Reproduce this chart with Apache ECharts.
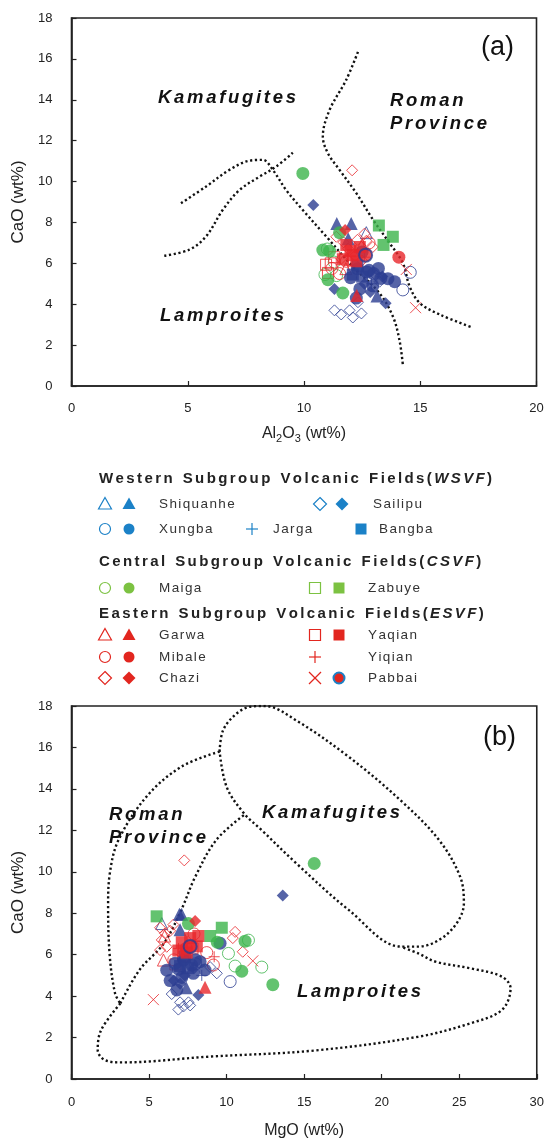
<!DOCTYPE html>
<html>
<head>
<meta charset="utf-8">
<script src="https://cdn.jsdelivr.net/npm/echarts@6/dist/echarts.min.js"></script>
<style>
  html, body { margin: 0; padding: 0; background: #fff; }
  #chart { width: 547px; height: 1142px; }
</style>
</head>
<body>
<div id="chart"></div>
<script>
// samples: [Al2O3, MgO, CaO] (wt%)
var shiquanheOpen   = [[12.68, 5.82, 7.5]];
var shiquanheFilled = [[11.41, 6.96, 7.95], [12.03, 7.1, 7.95], [11.9, 7.0, 7.2], [13.14, 7.4, 4.4]];
var xungbaOpen      = [[14.57, 8.0, 5.56], [14.25, 10.23, 4.7]];
var xungbaFilled    = [[13.9, 7.86, 5.1], [13.61, 6.14, 5.25], [12.25, 6.79, 4.3], [12.96, 7.11, 4.9],
                       [12.4, 6.36, 4.75], [12.7, 6.68, 5.58], [12.3, 7.22, 5.74], [13.0, 7.75, 5.5],
                       [12.8, 8.29, 5.66], [13.3, 8.61, 5.26], [12.5, 9.58, 6.55], [12.0, 6.9, 5.3],
                       [13.2, 8.0, 5.75]];
var sailipuOpen     = [[11.31, 7.0, 3.7], [11.6, 7.22, 3.5], [11.96, 7.54, 3.7], [12.1, 6.89, 3.35],
                       [12.47, 7.65, 3.55], [12.32, 6.46, 4.1], [13.11, 8.94, 5.4], [13.25, 9.37, 5.1]];
var sailipuFilled   = [[10.4, 13.62, 8.85], [13.51, 8.18, 4.05], [13.37, 7.9, 5.35], [11.31, 6.6, 4.75],
                       [12.6, 7.3, 5.0], [12.85, 7.0, 4.6]];
var jarga           = [[12.9, 8.4, 5.0]];
var bangba          = [[12.1, 7.0, 5.45], [12.5, 7.5, 5.35], [12.3, 7.3, 5.9]];
var maigaOpen       = [[11.0, 11.41, 6.7], [11.3, 10.12, 6.06], [10.9, 10.55, 5.45], [11.4, 12.27, 5.4]];
var maigaFilled     = [[9.95, 15.65, 10.4], [11.53, 7.54, 7.5], [10.81, 11.19, 6.65], [11.1, 9.4, 6.6],
                       [11.03, 10.98, 5.2], [11.67, 12.98, 4.55]];
var zabuyeFilled    = [[13.22, 5.49, 7.85], [13.82, 9.69, 7.3], [13.42, 8.94, 6.9]];
var garwaOpen       = [[11.8, 5.93, 5.74], [12.5, 6.0, 6.9]];
var garwaFilled     = [[12.27, 8.61, 4.43]];
var mibaleOpen      = [[11.53, 9.15, 5.5], [11.82, 8.72, 6.1], [12.8, 7.9, 7.0], [11.2, 6.6, 5.75]];
var mibaleFilled    = [[14.08, 7.4, 6.3]];
var chaziOpen       = [[12.07, 7.27, 10.55], [12.68, 10.55, 7.1], [12.96, 10.4, 6.8], [12.5, 11.04, 6.14],
                       [11.39, 5.71, 7.3], [11.7, 6.03, 7.03], [12.3, 6.36, 7.15], [11.9, 5.82, 6.71],
                       [12.2, 6.14, 6.38], [11.6, 5.71, 6.22], [12.6, 6.57, 7.45]];
var chaziFilled     = [[11.77, 7.97, 7.63]];
var yaqianOpen      = [[10.95, 7.3, 5.93], [11.03, 6.7, 5.53], [11.3, 7.8, 6.3], [11.15, 7.2, 6.0]];
var yaqianFilled    = [[11.82, 8.18, 6.9], [11.67, 6.89, 6.2], [12.25, 7.43, 6.1], [12.0, 7.11, 6.6],
                       [12.4, 7.65, 6.8], [12.1, 8.08, 6.4]];
var yiqian          = [[11.9, 9.2, 5.9], [12.6, 6.9, 6.3]];
var pabbaiCross     = [[14.4, 11.69, 5.7], [14.8, 5.28, 3.83]];
var pabbaiDot       = [[12.65, 7.65, 6.4]];

// field boundaries, panel (a): [Al2O3, CaO]
var archA  = [[4.71, 8.94], [5.79, 9.76], [6.79, 10.57], [7.65, 11.02], [8.23, 11.06], [8.66, 10.57],
              [9.23, 9.59], [9.94, 8.62], [10.95, 7.32], [12.09, 5.85], [13.24, 4.55], [13.82, 3.41],
              [14.1, 2.28], [14.25, 1.06]];
var riseA  = [[3.99, 6.37], [5.07, 6.67], [5.79, 7.32], [6.51, 8.62], [7.23, 9.59], [8.09, 10.24],
              [8.8, 10.73], [9.52, 11.41]];
var romanA = [[12.32, 16.34], [11.81, 14.96], [11.1, 13.5], [10.81, 12.2], [11.03, 11.38], [11.53, 10.57],
              [12.25, 9.43], [12.97, 8.13], [13.68, 6.99], [14.25, 6.02], [14.54, 4.88], [14.97, 4.07],
              [15.83, 3.5], [17.27, 2.85]];
// panel (b): [MgO, CaO]
var kamB    = [[9.55, 15.8], [9.78, 16.84], [10.67, 17.65], [11.57, 17.97], [12.47, 18.0], [14.5, 17.3],
               [17.87, 15.55], [21.2, 13.46], [23.7, 11.53], [25.06, 9.76], [25.3, 8.48], [24.83, 7.51],
               [23.7, 6.71], [22.36, 6.39], [21.24, 6.39], [17.87, 8.16], [14.49, 10.41], [12.25, 12.02],
               [11.12, 12.82], [10.0, 14.1], [9.55, 15.8]];
var romanB  = [[9.55, 15.8], [7.08, 15.07], [4.83, 13.62], [3.03, 11.53], [2.47, 9.92], [2.36, 8.32],
               [2.47, 5.9], [2.81, 4.13], [3.15, 3.65]];
var divideB = [[3.15, 3.65], [4.38, 5.26], [5.96, 6.55], [7.08, 8.16], [7.98, 9.76], [9.33, 11.53], [11.12, 12.74]];
var lampB   = [[3.15, 3.65], [1.91, 2.36], [1.69, 1.4], [2.13, 0.92], [3.26, 0.8], [8.88, 1.08], [15.62, 1.37],
               [22.36, 2.04], [25.73, 2.69], [27.75, 3.33], [28.31, 4.38], [27.75, 4.94], [25.73, 5.34],
               [23.48, 5.66], [22.36, 6.06], [21.24, 6.39]];

var xTicksA = [0, 5, 10, 15, 20];
var xTicksB = [0, 5, 10, 15, 20, 25, 30];
var yTicks  = [0, 2, 4, 6, 8, 10, 12, 14, 16, 18];

var FONT = 'Liberation Sans, Arial, sans-serif';
var NAVY = '#2c3d91', GREEN = '#3cb44b', RED = '#e8262b';
var L_BLUE = '#1b81c7', L_GREEN = '#7cc242', L_RED = '#e2261f';
var PLUS = 'path://M5,0L5,10M0,5L10,5';
var CROSS = 'path://M0,0L10,10M10,0L0,10';

// letter spacing through rich text: every glyph is a token, gaps are small spaces
function spaced(str, cls, gap) {
    return str.split('').map(function (c) { return '{' + cls + '|' + c + '}'; }).join('{' + gap + '| }');
}
function gapStyle(px) { return { fontFamily: FONT, fontSize: px / 0.278 }; }

var groups = [
    { d: sailipuOpen, sym: 'diamond', c: NAVY, open: true, size: 11 },
    { d: shiquanheOpen, sym: 'triangle', c: NAVY, open: true, size: 12 },
    { d: xungbaOpen, sym: 'circle', c: NAVY, open: true, size: 12 },
    { d: jarga, sym: PLUS, c: NAVY, open: true, size: 11 },
    { d: maigaOpen, sym: 'circle', c: GREEN, open: true, size: 12 },
    { d: garwaOpen, sym: 'triangle', c: RED, open: true, size: 12 },
    { d: mibaleOpen, sym: 'circle', c: RED, open: true, size: 12 },
    { d: chaziOpen, sym: 'diamond', c: RED, open: true, size: 11 },
    { d: yaqianOpen, sym: 'rect', c: RED, open: true, size: 11 },
    { d: yiqian, sym: PLUS, c: RED, open: true, size: 11 },
    { d: pabbaiCross, sym: CROSS, c: RED, open: true, size: 11 },
    { d: xungbaFilled, sym: 'circle', c: NAVY, size: 13 },
    { d: sailipuFilled, sym: 'diamond', c: NAVY, size: 12 },
    { d: bangba, sym: 'rect', c: NAVY, size: 12 },
    { d: shiquanheFilled, sym: 'triangle', c: NAVY, size: 13 },
    { d: maigaFilled, sym: 'circle', c: GREEN, size: 13 },
    { d: zabuyeFilled, sym: 'rect', c: GREEN, size: 12 },
    { d: yaqianFilled, sym: 'rect', c: RED, size: 12 },
    { d: mibaleFilled, sym: 'circle', c: RED, size: 13 },
    { d: chaziFilled, sym: 'diamond', c: RED, size: 12 },
    { d: garwaFilled, sym: 'triangle', c: RED, size: 13 },
    { d: pabbaiDot, sym: 'circle', c: RED, size: 13, ring: NAVY }
];

var series = [];
function addLine(data, idx) {
    series.push({
        type: 'line', xAxisIndex: idx, yAxisIndex: idx, data: data, smooth: 0.35,
        showSymbol: false, silent: true, z: 1,
        lineStyle: { color: '#111', width: 2.4, type: [2.2, 2.6] }
    });
}
addLine(archA, 0); addLine(riseA, 0); addLine(romanA, 0);
addLine(kamB, 1); addLine(romanB, 1); addLine(divideB, 1); addLine(lampB, 1);

groups.forEach(function (g) {
    [0, 1].forEach(function (idx) {
        series.push({
            type: 'scatter', xAxisIndex: idx, yAxisIndex: idx, z: 3,
            symbol: g.sym, symbolSize: g.size,
            data: g.d.map(function (p) { return [idx === 0 ? p[0] : p[1], p[2]]; }),
            itemStyle: g.open
                ? { color: 'rgba(0,0,0,0)', borderColor: g.c, borderWidth: 1 }
                : { color: g.c, borderColor: g.ring || g.c, borderWidth: g.ring ? 2 : 0 }
        });
    });
});

var axisLine = { show: true, onZero: false, lineStyle: { color: '#222', width: 1.6 } };
var tick = { show: true, inside: true, length: 5, lineStyle: { color: '#222', width: 1.2 } };
function xAxisOf(idx, ticks, name, gap, margin) {
    return {
        gridIndex: idx, type: 'value', min: ticks[0], max: ticks[ticks.length - 1], interval: 5,
        name: name, nameLocation: 'middle', nameGap: gap,
        nameTextStyle: {
            fontFamily: FONT, fontSize: 16, color: '#222',
            rich: {
                n: { fontFamily: FONT, fontSize: 16, color: '#222' },
                s: { fontFamily: FONT, fontSize: 11, color: '#222', padding: [9, 0, 0, 0] }
            }
        },
        axisLine: axisLine, axisTick: tick, splitLine: { show: false },
        axisLabel: { fontFamily: FONT, fontSize: 13, color: '#222', margin: margin }
    };
}
function yAxisOf(idx) {
    return {
        gridIndex: idx, type: 'value', min: yTicks[0], max: yTicks[yTicks.length - 1], interval: 2,
        name: 'CaO (wt%)', nameLocation: 'middle', nameGap: 33,
        nameTextStyle: { fontFamily: FONT, fontSize: 17, color: '#222' },
        axisLine: axisLine, axisTick: tick, splitLine: { show: false },
        axisLabel: { fontFamily: FONT, fontSize: 13, color: '#222', margin: 19 }
    };
}

// legend pieces
function mark(shape, cx, cy, color, filled, ring) {
    var st = filled ? { fill: color, stroke: ring || color, lineWidth: ring ? 2 : 0 }
                    : { fill: 'none', stroke: color, lineWidth: 1.2 };
    if (shape === 'circle') return [{ type: 'circle', shape: { cx: cx, cy: cy, r: 5.5 }, style: st }];
    if (shape === 'rect') return [{ type: 'rect', shape: { x: cx - 5.5, y: cy - 5.5, width: 11, height: 11 }, style: st }];
    if (shape === 'triangle') return [{ type: 'polygon', shape: { points: [[cx, cy - 6.5], [cx + 6.5, cy + 5], [cx - 6.5, cy + 5]] }, style: st }];
    if (shape === 'diamond') return [{ type: 'polygon', shape: { points: [[cx, cy - 6.5], [cx + 6.5, cy], [cx, cy + 6.5], [cx - 6.5, cy]] }, style: st }];
    var s = { stroke: color, lineWidth: 1.2 };
    if (shape === 'plus') return [
        { type: 'line', shape: { x1: cx - 6, y1: cy, x2: cx + 6, y2: cy }, style: s },
        { type: 'line', shape: { x1: cx, y1: cy - 6, x2: cx, y2: cy + 6 }, style: s }];
    return [
        { type: 'line', shape: { x1: cx - 6, y1: cy - 6, x2: cx + 6, y2: cy + 6 }, style: s },
        { type: 'line', shape: { x1: cx + 6, y1: cy - 6, x2: cx - 6, y2: cy + 6 }, style: s }];
}

var legendHeads = [
    ['Western Subgroup Volcanic Fields', 'WSVF', 479],
    ['Central Subgroup Volcanic Fields', 'CSVF', 562],
    ['Eastern Subgroup Volcanic Fields', 'ESVF', 614]
];
// [label, labelX, y, color, [shape, x, filled, ring]...]
var legendItems = [
    ['Shiquanhe', 159, 504, L_BLUE, [['triangle', 105, 0], ['triangle', 129, 1]]],
    ['Sailipu', 373, 504, L_BLUE, [['diamond', 320, 0], ['diamond', 342, 1]]],
    ['Xungba', 159, 529, L_BLUE, [['circle', 105, 0], ['circle', 129, 1]]],
    ['Jarga', 273, 529, L_BLUE, [['plus', 252, 0]]],
    ['Bangba', 379, 529, L_BLUE, [['rect', 361, 1]]],
    ['Maiga', 159, 588, L_GREEN, [['circle', 105, 0], ['circle', 129, 1]]],
    ['Zabuye', 368, 588, L_GREEN, [['rect', 315, 0], ['rect', 339, 1]]],
    ['Garwa', 159, 635, L_RED, [['triangle', 105, 0], ['triangle', 129, 1]]],
    ['Yaqian', 368, 635, L_RED, [['rect', 315, 0], ['rect', 339, 1]]],
    ['Mibale', 159, 657, L_RED, [['circle', 105, 0], ['circle', 129, 1]]],
    ['Yiqian', 368, 657, L_RED, [['plus', 315, 0]]],
    ['Chazi', 159, 678, L_RED, [['diamond', 105, 0], ['diamond', 129, 1]]],
    ['Pabbai', 368, 678, L_RED, [['cross', 315, 0], ['circle', 339, 1, L_BLUE]]]
];

var graphics = [];
var headRich = {
    b: { fontFamily: FONT, fontSize: 15, fontWeight: 'bold', fill: '#222' },
    i: { fontFamily: FONT, fontSize: 15, fontWeight: 'bold', fontStyle: 'italic', fill: '#222' },
    g: gapStyle(2.4), w: gapStyle(3)
};
legendHeads.forEach(function (h) {
    var words = h[0].split(' ').map(function (w) { return spaced(w, 'b', 'g'); });
    graphics.push({
        type: 'text', x: 99, y: h[2],
        style: {
            text: words.join('{w| }{b| }{w| }') + '{g| }{b|(}{g| }' + spaced(h[1], 'i', 'g') + '{g| }{b|)}',
            verticalAlign: 'middle', rich: headRich
        }
    });
});
var labelRich = { t: { fontFamily: FONT, fontSize: 13.5, fill: '#333' }, g: gapStyle(1.4) };
legendItems.forEach(function (it) {
    it[4].forEach(function (m) {
        graphics = graphics.concat(mark(m[0], m[1], it[2], it[3], m[2], m[3]));
    });
    graphics.push({
        type: 'text', x: it[1], y: it[2],
        style: { text: spaced(it[0], 't', 'g'), verticalAlign: 'middle', rich: labelRich }
    });
});

// field names inside the panels
var fieldText = [
    ['Kamafugites', 158, 98], ['Roman', 390, 101], ['Province', 390, 124], ['Lamproites', 160, 316],
    ['Roman', 109, 815], ['Province', 109, 838], ['Kamafugites', 262, 813], ['Lamproites', 297, 992]
];
var fieldRich = {
    t: { fontFamily: FONT, fontSize: 18.5, fontWeight: 'bold', fontStyle: 'italic', fill: '#111' },
    g: gapStyle(2.7)
};
fieldText.forEach(function (t) {
    graphics.push({
        type: 'text', x: t[1], y: t[2], z: 10,
        style: { text: spaced(t[0], 't', 'g'), verticalAlign: 'middle', rich: fieldRich }
    });
});
graphics.push({ type: 'text', x: 481, y: 48, style: { text: '(a)', fill: '#111', font: '27px ' + FONT, verticalAlign: 'middle' } });
graphics.push({ type: 'text', x: 483, y: 738, style: { text: '(b)', fill: '#111', font: '27px ' + FONT, verticalAlign: 'middle' } });

var chart = echarts.init(document.getElementById('chart'));
chart.setOption({
    backgroundColor: '#fff',
    animation: false,
    grid: [
        { left: 71.5, top: 18, width: 465, height: 368, show: true, borderColor: '#222', borderWidth: 1.6 },
        { left: 71.5, top: 706, width: 465.5, height: 373, show: true, borderColor: '#222', borderWidth: 1.6 }
    ],
    xAxis: [
        xAxisOf(0, xTicksA, '{n|Al}{s|2}{n|O}{s|3}{n| (wt%)}', 38, 16),
        xAxisOf(1, xTicksB, 'MgO (wt%)', 44, 17)
    ],
    yAxis: [yAxisOf(0), yAxisOf(1)],
    series: series,
    graphic: graphics
});
</script>
</body>
</html>
